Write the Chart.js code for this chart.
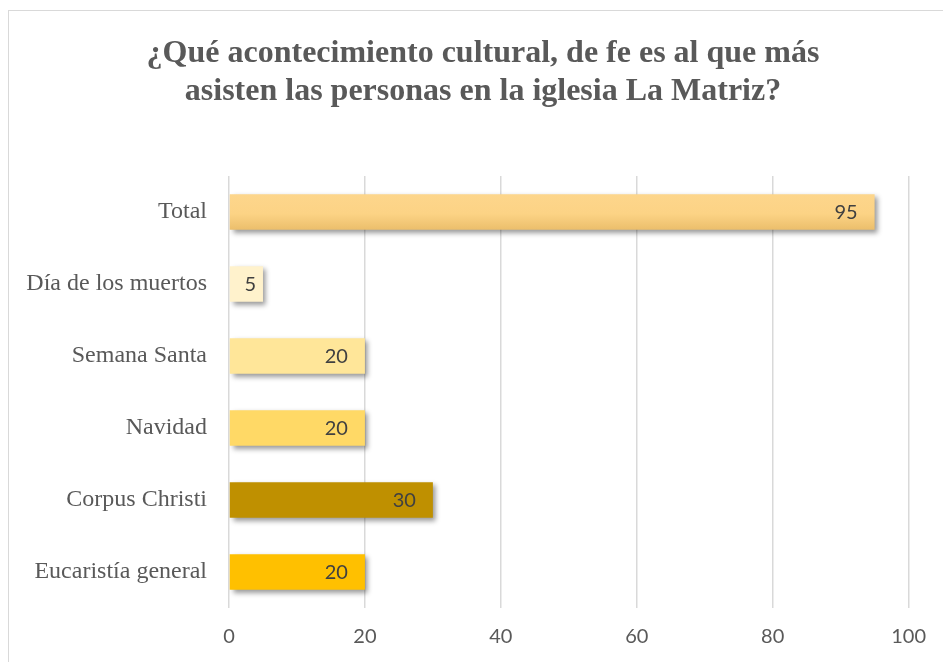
<!DOCTYPE html>
<html>
<head>
<meta charset="utf-8">
<script src="https://cdn.jsdelivr.net/npm/chart.js@4"></script>
<style>
  html, body { margin: 0; padding: 0; background: #fff; }
  #wrap { width: 943px; height: 662px; }
</style>
</head>
<body>
<div id="wrap"><canvas id="eventsChart" width="943" height="662"></canvas></div>
<script>
// Categories (top to bottom) and values
const categories = ['Total', 'Día de los muertos', 'Semana Santa', 'Navidad', 'Corpus Christi', 'Eucaristía general'];
const attendees = [95, 5, 20, 20, 30, 20];
const barColors = ['#FCD387', '#FFF2CC', '#FFE699', '#FFD966', '#BF9000', '#FFC000'];
const xTicks = [0, 20, 40, 60, 80, 100];
const titleLines = ['¿Qué acontecimiento cultural, de fe es al que más', 'asisten las personas en la iglesia La Matriz?'];

// Outer frame + title
const framePlugin = {
    id: 'frame',
    beforeDraw(chart) {
        const c = chart.ctx;
        c.save();
        c.strokeStyle = '#d9d9d9';
        c.lineWidth = 1;
        c.strokeRect(8.5, 10.5, 1000, 1000);
        c.fillStyle = '#595959';
        c.font = 'bold 32px "Liberation Serif", "Times New Roman", serif';
        c.textAlign = 'center';
        c.textBaseline = 'alphabetic';
        titleLines.forEach((line, i) => c.fillText(line, 483, 62 + i * 38));
        c.restore();
    }
};

// Soft drop shadow under the bars
const shadowPlugin = {
    id: 'barShadow',
    beforeDatasetsDraw(chart) {
        const c = chart.ctx;
        c.save();
        c.shadowColor = 'rgba(0,0,0,0.4)';
        c.shadowBlur = 5;
        c.shadowOffsetX = 3;
        c.shadowOffsetY = 3;
    },
    afterDatasetsDraw(chart) {
        chart.ctx.restore();
    }
};

// Values written inside the end of each bar
const valueLabels = {
    id: 'valueLabels',
    afterDatasetsDraw(chart) {
        const c = chart.ctx;
        const meta = chart.getDatasetMeta(0);
        c.save();
        c.font = '20px Lato';
        c.fillStyle = '#404040';
        c.textBaseline = 'middle';
        meta.data.forEach((bar, i) => {
            const w = bar.x - bar.base;
            const txt = String(attendees[i]);
            if (w < 60) {
                c.textAlign = 'center';
                c.fillText(txt, bar.base + w / 2 + 4, bar.y + 1);
            } else {
                c.textAlign = 'right';
                c.fillText(txt, bar.x - 17, bar.y + 1);
            }
        });
        c.restore();
    }
};

// Total bar gets a slight top-to-bottom shading
function barFill(ctx) {
    const y = ctx.chart.scales.y ? ctx.chart.scales.y.getPixelForValue(0) : NaN;
    if (ctx.dataIndex !== 0 || !isFinite(y)) return barColors[ctx.dataIndex];
    const g = ctx.chart.ctx.createLinearGradient(0, y - 18, 0, y + 18);
    g.addColorStop(0, '#FDD68C');
    g.addColorStop(0.55, '#FCD385');
    g.addColorStop(1, '#EBBE6B');
    return g;
}

new Chart(document.getElementById('eventsChart'), {
    type: 'bar',
    data: {
        labels: categories,
        datasets: [{
            data: attendees,
            backgroundColor: barFill,
            borderWidth: 0,
            categoryPercentage: 1,
            barPercentage: 0.49
        }]
    },
    options: {
        indexAxis: 'y',
        responsive: false,
        animation: false,
        layout: { padding: { top: 176, right: 34, bottom: 0, left: 0 } },
        scales: {
            x: {
                min: 0,
                max: 100,
                afterBuildTicks(scale) {
                    scale.ticks = xTicks.map(v => ({ value: v }));
                },
                afterFit(scale) { scale.height = 54; },
                grid: { color: '#d9d9d9', lineWidth: 1.5, drawTicks: false },
                border: { display: false },
                ticks: {
                    padding: 17,
                    color: '#595959',
                    font: { family: 'Lato', size: 20 }
                }
            },
            y: {
                afterFit(scale) { scale.width = 229; },
                grid: { display: false, drawTicks: false },
                border: { display: false },
                ticks: {
                    padding: 22,
                    color: '#595959',
                    font: { family: '"Liberation Serif", "Times New Roman", serif', size: 24 }
                }
            }
        },
        plugins: {
            legend: { display: false },
            tooltip: { enabled: false },
            title: { display: false }
        }
    },
    plugins: [framePlugin, shadowPlugin, valueLabels]
});
</script>
</body>
</html>
